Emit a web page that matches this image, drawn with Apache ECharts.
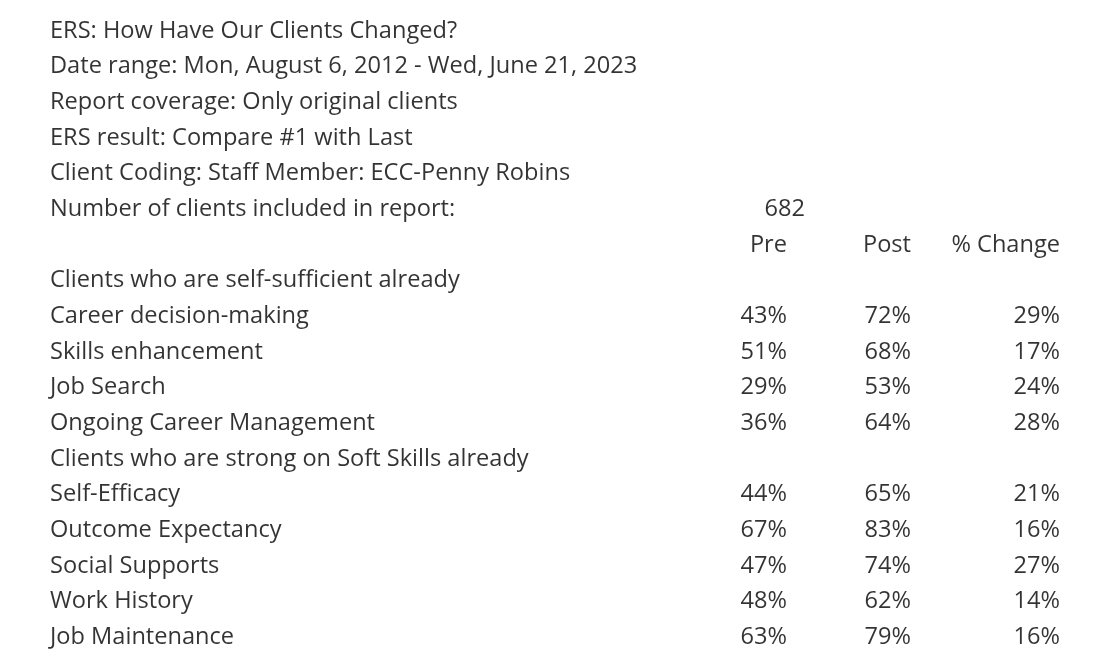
<!DOCTYPE html>
<html>
<head>
<meta charset="utf-8">
<script src="https://cdn.jsdelivr.net/npm/echarts@6/dist/echarts.min.js"></script>
<style>
  html, body { margin: 0; padding: 0; background: #fff; }
  #chart { width: 1120px; height: 661px; }
</style>
</head>
<body>
<div id="chart"></div>
<script>
// report header lines
const infoLines = [
  'ERS: How Have Our Clients Changed?',
  'Date range: Mon, August 6, 2012 - Wed, June 21, 2023',
  'Report coverage: Only original clients',
  'ERS result: Compare #1 with Last',
  'Client Coding: Staff Member: ECC-Penny Robins',
  'Number of clients included in report:'
]
const clientCount = 682
const columnHeaders = ['Pre', 'Post', '% Change']

const sectionSelf = 'Clients who are self-sufficient already'
const selfItems = ['Career decision-making', 'Skills enhancement', 'Job Search', 'Ongoing Career Management']
const selfPre = [43, 51, 29, 36]
const selfPost = [72, 68, 53, 64]
const selfChange = [29, 17, 24, 28]

const sectionSoft = 'Clients who are strong on Soft Skills already'
const softItems = ['Self-Efficacy', 'Outcome Expectancy', 'Social Supports', 'Work History', 'Job Maintenance']
const softPre = [44, 67, 47, 48, 63]
const softPost = [65, 83, 74, 62, 79]
const softChange = [21, 16, 27, 14, 16]

// column anchors (x in px on a 0..1120 value axis)
const COL_LABEL = 50
const COL_COUNT = 805
const COL_PRE = 787
const COL_POST = 911
const COL_CHANGE = 1060

// build rows
const labelRows = [] // [x, row, text]
const numRows = []   // [x, row, text]
let row = 0
infoLines.forEach(t => { labelRows.push([COL_LABEL, row, t]); row++ })
numRows.push([COL_COUNT, 5, String(clientCount)])
numRows.push([COL_PRE, row, columnHeaders[0]])
numRows.push([COL_POST, row, columnHeaders[1]])
numRows.push([COL_CHANGE, row, columnHeaders[2]])
row++

const addSection = (title, items, pre, post, change) => {
  labelRows.push([COL_LABEL, row, title]); row++
  items.forEach((name, i) => {
    labelRows.push([COL_LABEL, row, name])
    numRows.push([COL_PRE, row, pre[i] + '%'])
    numRows.push([COL_POST, row, post[i] + '%'])
    numRows.push([COL_CHANGE, row, change[i] + '%'])
    row++
  })
}
addSection(sectionSelf, selfItems, selfPre, selfPost, selfChange)
addSection(sectionSoft, softItems, softPre, softPost, softChange)

const rowKeys = Array.from({ length: row }, (_, i) => i)

const textStyle = {
  fontFamily: '"Open Sans", Lato, sans-serif',
  fontSize: 23.6,
  color: '#000'
}

const chart = echarts.init(document.getElementById('chart'))
chart.setOption({
  animation: false,
  grid: { left: 0, right: 0, top: 13, bottom: 6 },
  xAxis: { type: 'value', min: 0, max: 1120, show: false },
  yAxis: { type: 'category', data: rowKeys, inverse: true, show: false },
  series: [
    {
      type: 'scatter',
      symbolSize: 0,
      data: labelRows,
      label: {
        show: true,
        position: 'inside',
        align: 'left',
        verticalAlign: 'middle',
        formatter: p => p.data[2],
        ...textStyle
      }
    },
    {
      type: 'scatter',
      symbolSize: 0,
      data: numRows,
      label: {
        show: true,
        position: 'inside',
        align: 'right',
        verticalAlign: 'middle',
        formatter: p => p.data[2],
        ...textStyle
      }
    }
  ]
})
window.addEventListener('resize', () => chart.resize())
</script>
</body>
</html>
